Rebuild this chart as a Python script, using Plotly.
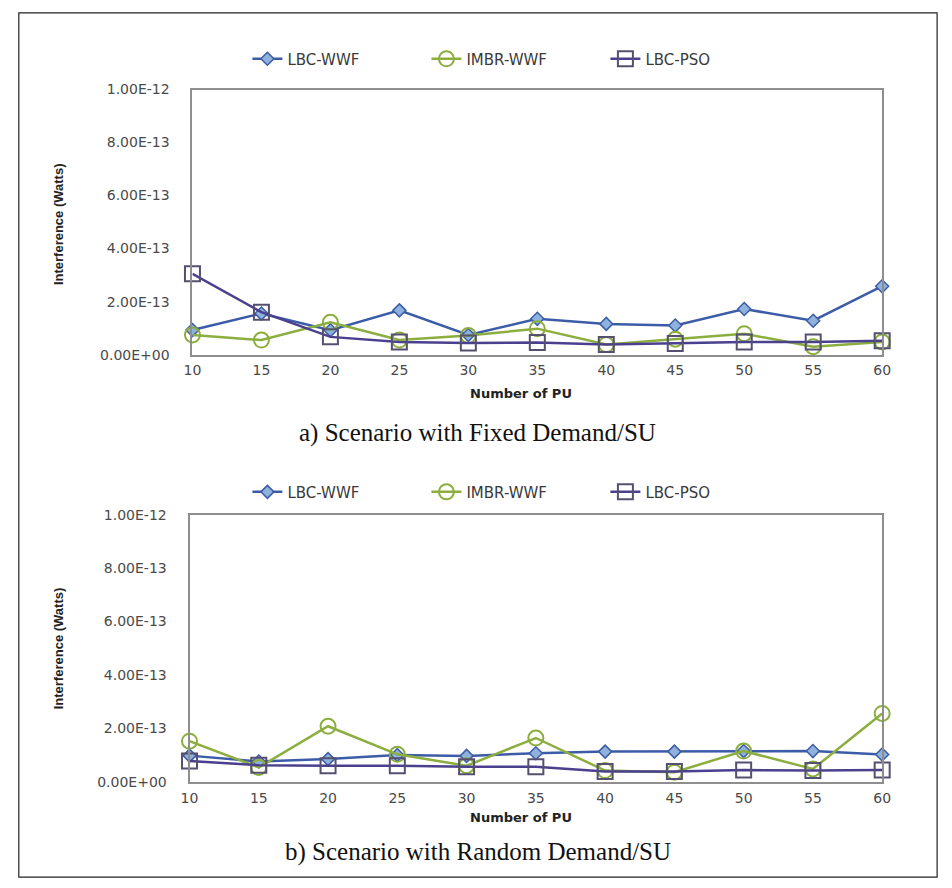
import plotly.graph_objects as go

W, H = 952, 888

# ---------------- data ----------------
num_pu = [10, 15, 20, 25, 30, 35, 40, 45, 50, 55, 60]
series_names = ["LBC-WWF", "IMBR-WWF", "LBC-PSO"]

# a) Scenario with Fixed Demand/SU  (Watts)
fixed_lbc_wwf = [0.93e-13, 1.55e-13, 0.92e-13, 1.67e-13, 0.74e-13, 1.35e-13, 1.16e-13, 1.10e-13, 1.72e-13, 1.28e-13, 2.58e-13]
fixed_imbr_wwf = [0.74e-13, 0.55e-13, 1.22e-13, 0.55e-13, 0.72e-13, 0.98e-13, 0.38e-13, 0.58e-13, 0.79e-13, 0.30e-13, 0.48e-13]
fixed_lbc_pso = [3.05e-13, 1.60e-13, 0.67e-13, 0.48e-13, 0.44e-13, 0.46e-13, 0.38e-13, 0.42e-13, 0.48e-13, 0.48e-13, 0.52e-13]

# b) Scenario with Random Demand/SU  (Watts)
rand_lbc_wwf = [0.98e-13, 0.76e-13, 0.85e-13, 1.00e-13, 0.97e-13, 1.07e-13, 1.13e-13, 1.13e-13, 1.15e-13, 1.15e-13, 1.02e-13]
rand_imbr_wwf = [1.52e-13, 0.54e-13, 2.08e-13, 1.03e-13, 0.60e-13, 1.64e-13, 0.42e-13, 0.36e-13, 1.15e-13, 0.48e-13, 2.56e-13]
rand_lbc_pso = [0.78e-13, 0.62e-13, 0.60e-13, 0.60e-13, 0.56e-13, 0.56e-13, 0.39e-13, 0.39e-13, 0.44e-13, 0.42e-13, 0.44e-13]

y_tickvals = [0, 2e-13, 4e-13, 6e-13, 8e-13, 1e-12]
y_ticktext = ["0.00E+00", "2.00E-13", "4.00E-13", "6.00E-13", "8.00E-13", "1.00E-12"]

x_title = "Number of PU"
y_title = "Interference (Watts)"
captions = ["a) Scenario with Fixed Demand/SU", "b) Scenario with Random Demand/SU"]

# ---------------- styling ----------------
def px(x):
    return x / W

def py(y):
    return 1 - y / H

C_BLUE = "#3c5ca8"
C_GREEN = "#8bae3e"
C_PURPLE = "#4a408e"
TICKFONT = dict(family="DejaVu Sans", size=14, color="#4a4a4a")
LEGFONT = dict(family="DejaVu Sans", size=15, color="#3a3a3a")

styles = [
    dict(line=dict(color=C_BLUE, width=2.5),
         marker=dict(symbol="diamond", size=10, color="#8fb2dc", line=dict(color=C_BLUE, width=1.5))),
    dict(line=dict(color=C_GREEN, width=2.5),
         marker=dict(symbol="circle", size=15, color="rgba(255,255,255,0)", line=dict(color=C_GREEN, width=2))),
    dict(line=dict(color=C_PURPLE, width=2.5),
         marker=dict(symbol="square", size=15, color="rgba(255,255,255,0)", line=dict(color="#555070", width=2))),
]

fig = go.Figure()

panels = [
    ([fixed_lbc_wwf, fixed_imbr_wwf, fixed_lbc_pso], "x", "y", "legend"),
    ([rand_lbc_wwf, rand_imbr_wwf, rand_lbc_pso], "x2", "y2", "legend2"),
]
for vals, xa, ya, leg in panels:
    for name, v, st in zip(series_names, vals, styles):
        fig.add_trace(go.Scatter(
            x=num_pu, y=v, name=name, mode="lines+markers",
            line=st["line"], marker=st["marker"],
            xaxis=xa, yaxis=ya, legend=leg, cliponaxis=False,
        ))

axis_common_x = dict(range=[10, 60], tickvals=num_pu, showline=True, mirror=True,
                     linecolor="#8e8e8e", linewidth=2, showgrid=False, zeroline=False,
                     ticks="", tickfont=TICKFONT, ticklabelstandoff=2)
axis_common_y = dict(range=[0, 1e-12], tickvals=y_tickvals, ticktext=y_ticktext,
                     showline=True, mirror=True, linecolor="#8e8e8e", linewidth=2,
                     showgrid=False, zeroline=False, ticks="", tickfont=TICKFONT,
                     ticklabelstandoff=18)

fig.update_layout(
    width=W, height=H,
    margin=dict(l=0, r=0, t=0, b=0),
    paper_bgcolor="white", plot_bgcolor="white",
    xaxis=dict(domain=[px(187), px(890)], anchor="y", **axis_common_x),
    yaxis=dict(domain=[py(353), py(83)], anchor="x", **axis_common_y),
    xaxis2=dict(domain=[px(184), px(890)], anchor="y2", **axis_common_x),
    yaxis2=dict(domain=[py(788), py(516)], anchor="x2", **axis_common_y),
    legend=dict(orientation="h", x=px(243), y=py(52), xanchor="left", yanchor="middle",
                font=LEGFONT, bgcolor="rgba(0,0,0,0)", itemwidth=30,
                entrywidth=134, entrywidthmode="pixels"),
    legend2=dict(orientation="h", x=px(243), y=py(493), xanchor="left", yanchor="middle",
                 font=LEGFONT, bgcolor="rgba(0,0,0,0)", itemwidth=30,
                 entrywidth=134, entrywidthmode="pixels"),
    showlegend=True,
)

annotations = []
for yc_title, yc_xt, yc_cap, cap in [(220, 393, 433, captions[0]), (652, 824, 859, captions[1])]:
    annotations.append(dict(x=px(50), y=py(yc_title), xref="paper", yref="paper",
                            xanchor="center", yanchor="middle",
                            text=f"<b>{y_title}</b>", textangle=-90, showarrow=False,
                            font=dict(family="Liberation Sans", size=13, color="#222")))
    annotations.append(dict(x=px(522), y=py(yc_xt), xref="paper", yref="paper",
                            xanchor="center", yanchor="middle",
                            text=f"<b>{x_title}</b>", showarrow=False,
                            font=dict(family="DejaVu Sans", size=13, color="#222")))
    annotations.append(dict(x=px(478), y=py(yc_cap), xref="paper", yref="paper",
                            xanchor="center", yanchor="middle",
                            text=cap, showarrow=False,
                            font=dict(family="Liberation Serif", size=25, color="#111")))
fig.update_layout(annotations=annotations)

fig.add_shape(type="rect", xref="paper", yref="paper",
              x0=px(10), x1=px(946), y0=py(885), y1=py(5),
              line=dict(color="#222", width=1.2), fillcolor="rgba(0,0,0,0)", layer="below")

fig.write_html("out.html", config={"displayModeBar": False},
               post_script="document.body.style.margin='0';document.body.style.padding='0';")
